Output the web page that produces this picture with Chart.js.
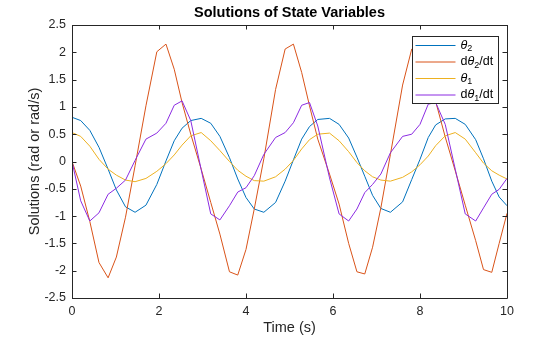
<!DOCTYPE html>
<html>
<head>
<meta charset="utf-8">
<script src="https://cdn.jsdelivr.net/npm/chart.js@4.4.1/dist/chart.umd.min.js"></script>
<style>
  html, body { margin: 0; padding: 0; background: #fff; }
  canvas { display: block; }
</style>
</head>
<body>
<canvas id="myChart" width="560" height="337"></canvas>
<script>
// sample times (s)
const timeValues = [0, 0.20, 0.41, 0.62, 0.83, 1.02, 1.23, 1.45, 1.70, 1.95,
  2.16, 2.35, 2.53, 2.73, 2.97, 3.19, 3.40, 3.62, 3.81, 4.00,
  4.19, 4.41, 4.68, 4.90, 5.09, 5.28, 5.46, 5.65, 5.92, 6.14,
  6.36, 6.55, 6.73, 6.91, 7.10, 7.32, 7.60, 7.81, 8.00, 8.19,
  8.36, 8.58, 8.81, 9.04, 9.28, 9.46, 9.65, 9.82, 10.0];

const theta2 = [0.81, 0.75, 0.57, 0.26, -0.14, -0.52, -0.83, -0.93, -0.80, -0.42,
  0.01, 0.38, 0.61, 0.75, 0.79, 0.70, 0.46, 0.07, -0.32, -0.66,
  -0.87, -0.93, -0.75, -0.36, 0.03, 0.41, 0.64, 0.77, 0.79, 0.68,
  0.43, 0.08, -0.27, -0.62, -0.86, -0.93, -0.74, -0.33, 0.04, 0.44,
  0.67, 0.78, 0.79, 0.68, 0.40, 0.05, -0.36, -0.65, -0.81];

const dTheta2 = [0, -0.45, -1.10, -1.85, -2.13, -1.75, -1.02, -0.08, 1.02, 2.01,
  2.15, 1.69, 1.08, 0.50, -0.14, -0.75, -1.33, -2.02, -2.08, -1.61,
  -0.87, 0.05, 1.32, 2.06, 2.15, 1.63, 1.02, 0.41, -0.23, -0.78,
  -1.50, -2.02, -2.06, -1.57, -0.85, 0.13, 1.40, 2.06, 2.15, 1.65,
  1.10, 0.45, -0.17, -0.80, -1.45, -1.98, -2.03, -1.50, -0.95];

const theta1 = [0.53, 0.46, 0.28, 0.04, -0.14, -0.25, -0.34, -0.37, -0.31, -0.18,
  -0.04, 0.12, 0.30, 0.47, 0.53, 0.38, 0.20, 0.00, -0.16, -0.27,
  -0.35, -0.36, -0.28, -0.14, 0.02, 0.23, 0.40, 0.50, 0.52, 0.38,
  0.18, -0.02, -0.17, -0.28, -0.34, -0.36, -0.29, -0.19, -0.06, 0.10,
  0.29, 0.47, 0.53, 0.41, 0.16, -0.03, -0.17, -0.25, -0.32];

const dTheta1 = [0, -0.72, -1.09, -0.94, -0.60, -0.49, -0.34, 0.02, 0.41, 0.52,
  0.70, 1.03, 1.11, 0.75, -0.15, -0.96, -1.07, -0.81, -0.56, -0.48,
  -0.26, 0.13, 0.44, 0.53, 0.71, 1.03, 1.08, 0.65, -0.30, -0.96,
  -1.09, -0.87, -0.57, -0.42, -0.23, 0.16, 0.46, 0.50, 0.68, 1.05,
  1.08, 0.68, -0.14, -0.96, -1.09, -0.85, -0.60, -0.51, -0.31];

const seriesNames = ['θ_2', 'dθ_2/dt', 'θ_1', 'dθ_1/dt'];
const seriesColors = ['#0072BD', '#D95319', '#EDB120', '#8B2BE2'];
const xTicks = [0, 2, 4, 6, 8, 10];
const yTicks = [-2.5, -2, -1.5, -1, -0.5, 0, 0.5, 1, 1.5, 2, 2.5];
const chartTitle = 'Solutions of State Variables';

const FONT = '"Liberation Sans", Arial, Helvetica, sans-serif';
const AXIS_COLOR = '#262626';

function toPoints(values) {
  return values.map((v, i) => ({ x: timeValues[i], y: v }));
}

// box round the axes, MATLAB style ticks pointing inwards, title over the axes
const axesBox = {
  id: 'axesBox',
  afterDatasetsDraw(chart) {
    const { ctx, chartArea: a, scales } = chart;
    const len = 4.5;
    ctx.save();
    ctx.strokeStyle = AXIS_COLOR;
    ctx.lineWidth = 1;
    ctx.beginPath();
    ctx.rect(Math.round(a.left) + 0.5, Math.round(a.top) + 0.5,
      Math.round(a.right) - Math.round(a.left), Math.round(a.bottom) - Math.round(a.top));
    xTicks.forEach(t => {
      const px = Math.round(scales.x.getPixelForValue(t)) + 0.5;
      ctx.moveTo(px, a.bottom); ctx.lineTo(px, a.bottom - len);
      ctx.moveTo(px, a.top); ctx.lineTo(px, a.top + len);
    });
    yTicks.forEach(t => {
      const py = Math.round(scales.y.getPixelForValue(t)) + 0.5;
      ctx.moveTo(a.left, py); ctx.lineTo(a.left + len, py);
      ctx.moveTo(a.right, py); ctx.lineTo(a.right - len, py);
    });
    ctx.stroke();

    ctx.fillStyle = '#000';
    ctx.font = 'bold 14.5px ' + FONT;
    ctx.textAlign = 'center';
    ctx.textBaseline = 'middle';
    ctx.fillText(chartTitle, (a.left + a.right) / 2, 12.5);
    ctx.restore();
  }
};

function drawLabel(ctx, text, x, y) {
  let cx = x;
  for (let i = 0; i < text.length; i++) {
    let ch = text[i];
    if (ch === '_') {
      ch = text[++i];
      ctx.font = '9px ' + FONT;
      ctx.fillText(ch, cx, y + 3.5);
      cx += ctx.measureText(ch).width;
      continue;
    }
    ctx.font = (ch === 'θ' ? 'italic ' : '') + '12.5px ' + FONT;
    ctx.fillText(ch, cx, y);
    cx += ctx.measureText(ch).width;
  }
}

// legend box in the top right corner of the axes
const boxLegend = {
  id: 'boxLegend',
  afterDraw(chart) {
    const { ctx, chartArea: a } = chart;
    const w = 86, h = 67;
    const left = Math.round(a.right - 9 - w) + 0.5;
    const top = Math.round(a.top + 11) + 0.5;
    ctx.save();
    ctx.fillStyle = '#fff';
    ctx.fillRect(left, top, w, h);
    ctx.strokeStyle = AXIS_COLOR;
    ctx.lineWidth = 1;
    ctx.strokeRect(left, top, w, h);
    ctx.textBaseline = 'middle';
    chart.data.datasets.forEach((ds, i) => {
      const y = top + 9 + i * 16.5;
      ctx.strokeStyle = ds.borderColor;
      ctx.beginPath();
      ctx.moveTo(left + 3, y); ctx.lineTo(left + 43, y);
      ctx.stroke();
      ctx.fillStyle = '#000';
      drawLabel(ctx, seriesNames[i], left + 48, y);
    });
    ctx.restore();
  }
};

const seriesValues = [theta2, dTheta2, theta1, dTheta1];

new Chart(document.getElementById('myChart'), {
  type: 'line',
  data: {
    datasets: seriesValues.map((vals, i) => ({
      label: seriesNames[i],
      data: toPoints(vals),
      borderColor: seriesColors[i],
      backgroundColor: seriesColors[i],
      borderWidth: 1,
      pointRadius: 0,
      tension: 0,
      fill: false,
      order: seriesValues.length - i
    }))
  },
  options: {
    responsive: false,
    animation: false,
    devicePixelRatio: 1,
    layout: { padding: { left: 0, right: 53, top: 25, bottom: 0 } },
    plugins: {
      legend: { display: false },
      tooltip: { enabled: false },
      title: { display: false }
    },
    scales: {
      x: {
        type: 'linear',
        min: 0,
        max: 10,
        grid: { display: false, drawTicks: false },
        border: { display: false },
        ticks: {
          stepSize: 2,
          padding: 6,
          color: AXIS_COLOR,
          font: { family: FONT, size: 12.5 },
          maxRotation: 0,
          callback: v => String(v)
        },
        title: {
          display: true,
          text: 'Time (s)',
          color: AXIS_COLOR,
          font: { family: FONT, size: 14.5 },
          padding: { top: 0, bottom: 0 }
        },
        afterFit(scale) { scale.height = 39; }
      },
      y: {
        min: -2.5,
        max: 2.5,
        grid: { display: false, drawTicks: false },
        border: { display: false },
        ticks: {
          stepSize: 0.5,
          padding: 6,
          color: AXIS_COLOR,
          font: { family: FONT, size: 12.5 },
          callback: v => String(v)
        },
        title: {
          display: true,
          text: 'Solutions (rad or rad/s)',
          color: AXIS_COLOR,
          font: { family: FONT, size: 14.5 },
          padding: { top: 26, bottom: 0 }
        },
        afterFit(scale) { scale.width = 72; }
      }
    }
  },
  plugins: [axesBox, boxLegend]
});
</script>
</body>
</html>
